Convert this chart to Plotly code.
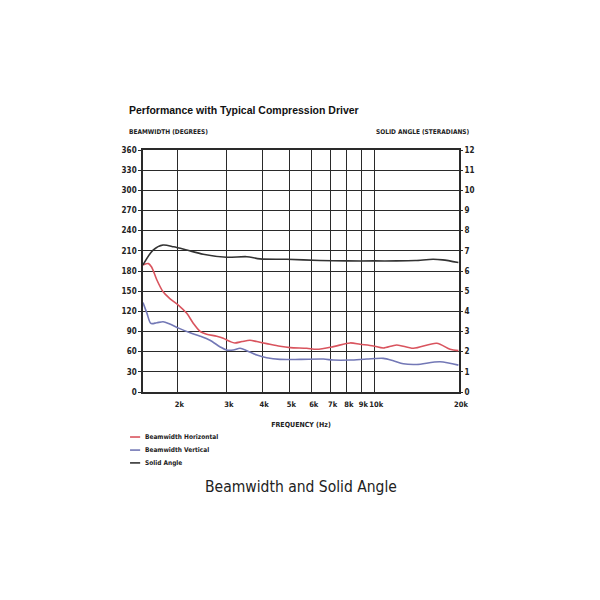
import plotly.graph_objects as go

# Beamwidth (degrees) vs frequency (Hz)
freq_h = [1510, 1580, 1620, 1690, 1780, 1880, 2020, 2160, 2280, 2410, 2540, 2760,
          2910, 3080, 3200, 3390, 3620, 3830, 4150, 4630, 5030, 5760, 6250, 7160,
          8210, 8910, 9930, 10770, 12020, 13770, 16670, 18590, 19900]
bw_h = [189, 191, 186, 167, 149, 139, 129, 117, 102, 90, 86, 83,
        80, 75, 73, 75, 77, 75, 72, 68, 66, 65, 63.5, 67.5,
        73, 71, 68.5, 65.5, 70, 65, 72.5, 63.5, 61.5]

freq_v = [1510, 1560, 1610, 1690, 1780, 1880, 2020, 2220, 2410, 2610, 2840, 2990,
          3160, 3340, 3530, 3830, 4150, 4630, 5450, 6600, 7160, 8210, 9410, 10770,
          11690, 12690, 14150, 17120, 19900]
bw_v = [133, 117, 102, 103, 104.5, 101, 95, 88, 83, 77, 67, 62.5,
        62.5, 65, 61.5, 55, 51, 48.5, 48.5, 49, 47.5, 47.5, 49, 50,
        46.5, 42, 41, 45, 40]

# Solid angle (steradians) vs frequency (Hz)
freq_sa = [1510, 1640, 1780, 1940, 2160, 2470, 2990, 3530, 3930, 4890, 6420, 8000,
           10000, 12000, 14000, 16170, 17500, 19900]
sa = [6.3, 7.04, 7.29, 7.2, 7.04, 6.83, 6.68, 6.71, 6.6, 6.58, 6.52, 6.5,
      6.5, 6.5, 6.52, 6.58, 6.55, 6.42]

x_tickvals = [2000, 3000, 4000, 5000, 6000, 7000, 8000, 9000, 10000, 20000]
x_ticktext = ["2k", "3k", "4k", "5k", "6k", "7k", "8k", "9k", "10k", "20k"]
y_ticks = list(range(0, 361, 30))
y2_ticks = list(range(0, 13))

series_names = ["Beamwidth Horizontal", "Beamwidth Vertical", "Solid Angle"]
series_colors = ["#d9545e", "#7378b6", "#333333"]

COND = "DejaVu Sans Condensed, Liberation Sans Narrow, sans-serif"
tick_font = dict(family=COND, size=8, color="#222", weight="bold")
xtick_font = dict(family=COND, size=7.5, color="#222", weight="bold")
GRID = "#2a2a2a"

fig = go.Figure()
fig.add_trace(go.Scatter(x=freq_h, y=bw_h, mode="lines", name=series_names[0],
                         line=dict(color=series_colors[0], width=1.6, shape="spline", smoothing=0.8)))
fig.add_trace(go.Scatter(x=freq_v, y=bw_v, mode="lines", name=series_names[1],
                         line=dict(color=series_colors[1], width=1.6, shape="spline", smoothing=0.8)))
fig.add_trace(go.Scatter(x=freq_sa, y=sa, mode="lines", name=series_names[2], yaxis="y2",
                         line=dict(color=series_colors[2], width=1.6, shape="spline", smoothing=0.8)))

# Compact key below the plot: short line swatch plus label per series
shapes = []
annotations = []
key_y = [-0.186, -0.240, -0.293]
for name, color, ky in zip(series_names, series_colors, key_y):
    shapes.append(dict(type="line", xref="paper", yref="paper",
                       x0=-0.041, x1=-0.009, y0=ky, y1=ky,
                       line=dict(color=color, width=1.6)))
    annotations.append(dict(text=name, xref="paper", yref="paper", x=0.0, y=ky,
                            xanchor="left", yanchor="middle", showarrow=False,
                            font=dict(family=COND, size=6.5, color="#222", weight="bold")))

annotations += [
    dict(text="<b>Performance with Typical Compression Driver</b>", xref="paper", yref="paper",
         x=-0.05, y=1.165, xanchor="left", yanchor="middle", showarrow=False,
         font=dict(family="Arial, Liberation Sans, sans-serif", size=10.5, color="#111")),
    dict(text="BEAMWIDTH (DEGREES)", xref="paper", yref="paper",
         x=-0.05, y=1.074, xanchor="left", yanchor="middle", showarrow=False,
         font=dict(family=COND, size=6.5, color="#222", weight="bold")),
    dict(text="SOLID ANGLE (STERADIANS)", xref="paper", yref="paper",
         x=1.04, y=1.074, xanchor="right", yanchor="middle", showarrow=False,
         font=dict(family=COND, size=6.5, color="#222", weight="bold")),
    dict(text="Beamwidth and Solid Angle", xref="paper", yref="paper",
         x=0.5, y=-0.393, xanchor="center", yanchor="middle", showarrow=False,
         font=dict(family=COND, size=15.5, color="#222")),
]

fig.update_layout(
    width=600, height=600,
    paper_bgcolor="white", plot_bgcolor="white",
    margin=dict(l=143, r=141, t=150, b=208),
    showlegend=False,
    xaxis=dict(type="log", range=[3.179, 4.30103],
               tickvals=x_tickvals, ticktext=x_ticktext, tickfont=xtick_font, tickangle=0,
               ticklabelstandoff=4, ticklabelshift=2,
               showgrid=True, gridcolor=GRID, gridwidth=1.3,
               showline=True, linecolor=GRID, linewidth=1.5, mirror=True,
               ticks="", zeroline=False,
               title=dict(text="FREQUENCY (Hz)",
                          font=dict(family=COND, size=7, color="#222", weight="bold"),
                          standoff=14)),
    yaxis=dict(range=[0, 360], tickvals=y_ticks, tickfont=tick_font,
               showgrid=True, gridcolor=GRID, gridwidth=1.3,
               showline=True, linecolor=GRID, linewidth=1.5, mirror=True,
               ticks="outside", ticklen=3, tickcolor=GRID, zeroline=False),
    yaxis2=dict(range=[0, 12], tickvals=y2_ticks, tickfont=tick_font,
                overlaying="y", side="right", showgrid=False, zeroline=False,
                ticks="outside", ticklen=3, tickcolor=GRID),
    shapes=shapes,
    annotations=annotations,
)

fig.write_html("out.html")
